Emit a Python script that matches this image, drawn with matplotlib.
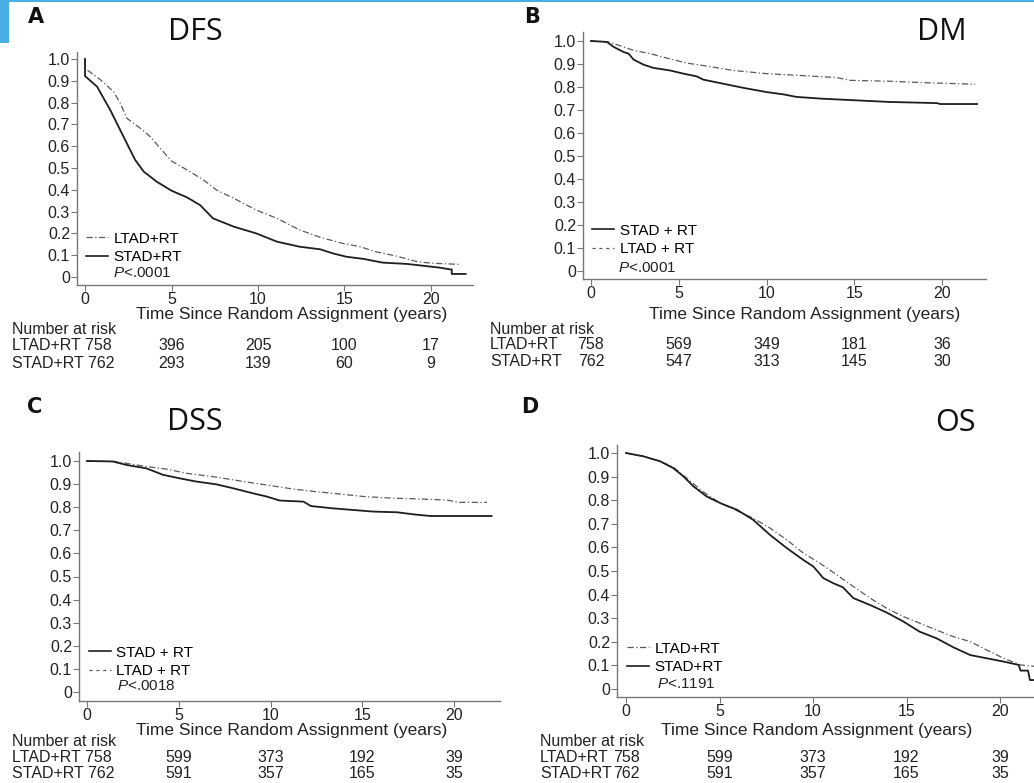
import matplotlib
matplotlib.use("Agg")
import matplotlib.pyplot as plt
from matplotlib.lines import Line2D
from matplotlib.patches import Rectangle
from matplotlib.transforms import blended_transform_factory

W, H = 1034, 783
plt.rcParams['font.family'] = ['Liberation Sans', 'DejaVu Sans']
plt.rcParams['mathtext.fontset'] = 'custom'
plt.rcParams['mathtext.it'] = 'Liberation Sans:italic'
plt.rcParams['mathtext.rm'] = 'Liberation Sans'

# ---- data ----
# panel A: disease-free survival
dfs_stad_t = [0, 0, 0.7, 1.46, 2.42, 2.9, 3.4, 4.15, 5.0, 5.9, 6.65, 7.4, 8.6, 9.9, 11.1, 12.4,
              13.6, 14.3, 15.1, 16.1, 17.2, 18.6, 19.5, 20.5, 21.1, 21.2, 21.2, 22.0]
dfs_stad_s = [1.0, 0.922, 0.873, 0.766, 0.613, 0.537, 0.483, 0.437, 0.396, 0.365, 0.33, 0.269, 0.231,
              0.2, 0.162, 0.139, 0.127, 0.109, 0.093, 0.083, 0.066, 0.06, 0.052, 0.043, 0.035, 0.035,
              0.014, 0.014]
dfs_ltad_t = [0, 0, 0.9, 1.65, 2.04, 2.42, 3.2, 3.77, 4.35, 5.0, 5.9, 6.85, 7.6, 8.6, 9.9, 11.1, 12.4,
              13.6, 14.9, 15.9, 16.8, 18.0, 19.2, 20.1, 21.65]
dfs_ltad_s = [1.0, 0.957, 0.904, 0.85, 0.797, 0.728, 0.682, 0.644, 0.59, 0.532, 0.491, 0.445, 0.399,
              0.361, 0.307, 0.269, 0.216, 0.182, 0.154, 0.139, 0.116, 0.096, 0.07, 0.063, 0.058]

# panel B: distant metastasis
dm_stad_t = [0, 0.9, 1.3, 1.86, 2.14, 2.43, 3.0, 3.56, 4.5, 5.27, 6.03, 6.4, 7.55, 8.7, 10.0, 10.96,
             11.7, 13.2, 15.1, 17.0, 19.7, 19.9, 22.0]
dm_stad_s = [1.0, 0.996, 0.974, 0.952, 0.945, 0.919, 0.897, 0.883, 0.872, 0.858, 0.846, 0.832, 0.814,
             0.796, 0.778, 0.768, 0.757, 0.749, 0.742, 0.735, 0.73, 0.726, 0.726]
dm_ltad_t = [0, 1.0, 1.48, 2.43, 3.37, 4.3, 5.46, 6.6, 8.1, 10.0, 11.7, 14.0, 14.75, 17.0, 18.9, 21.9]
dm_ltad_s = [1.0, 0.996, 0.984, 0.959, 0.945, 0.926, 0.904, 0.891, 0.872, 0.858, 0.851, 0.841, 0.829,
             0.825, 0.819, 0.812]

# panel C: disease-specific survival
dss_stad_t = [0, 1.4, 2.15, 3.24, 4.15, 5.05, 5.96, 7.05, 7.96, 9.05, 9.8, 10.5, 11.8, 12.2, 13.4,
              14.5, 15.6, 16.9, 17.8, 18.7, 22.05]
dss_stad_s = [1.0, 0.998, 0.983, 0.968, 0.94, 0.925, 0.911, 0.899, 0.882, 0.86, 0.846, 0.829, 0.824,
              0.805, 0.795, 0.788, 0.781, 0.778, 0.769, 0.762, 0.762]
dss_ltad_t = [0, 1.5, 2.15, 3.24, 4.33, 5.4, 6.9, 8.3, 9.8, 11.2, 12.5, 13.8, 15.1, 16.7, 18.0, 19.6,
              20.3, 21.8]
dss_ltad_s = [1.0, 0.998, 0.99, 0.976, 0.965, 0.947, 0.932, 0.914, 0.896, 0.879, 0.867, 0.857, 0.846,
              0.839, 0.836, 0.831, 0.821, 0.821]

# panel D: overall survival
os_stad_t = [0, 0.93, 1.82, 2.53, 3.07, 3.6, 4.31, 5.03, 5.92, 6.8, 7.7, 8.6, 9.48, 10.02, 10.55,
             11.09, 11.6, 12.16, 13.05, 13.94, 14.83, 15.7, 16.6, 17.5, 18.4, 19.3, 20.2, 21.0, 21.1,
             21.5, 21.6, 22.0]
os_stad_s = [1.0, 0.986, 0.965, 0.936, 0.901, 0.859, 0.816, 0.788, 0.76, 0.717, 0.653, 0.597, 0.547,
             0.519, 0.47, 0.448, 0.431, 0.385, 0.356, 0.324, 0.286, 0.243, 0.215, 0.177, 0.144, 0.13,
             0.116, 0.102, 0.078, 0.078, 0.038, 0.038]
os_ltad_t = [0, 0.93, 1.82, 2.53, 3.24, 4.1, 5.03, 6.8, 7.7, 8.6, 9.48, 10.37, 11.27, 12.16, 13.05,
             13.94, 14.83, 15.7, 16.6, 17.5, 18.4, 19.3, 20.2, 21.1, 22.0]
os_ltad_s = [1.0, 0.986, 0.965, 0.94, 0.894, 0.837, 0.788, 0.724, 0.682, 0.632, 0.576, 0.533, 0.484,
             0.434, 0.385, 0.342, 0.307, 0.279, 0.25, 0.222, 0.201, 0.165, 0.13, 0.102, 0.095]

risk_times = [0, 5, 10, 15, 20]
dfs_risk_ltad = [758, 396, 205, 100, 17]
dfs_risk_stad = [762, 293, 139, 60, 9]
dm_risk_ltad = [758, 569, 349, 181, 36]
dm_risk_stad = [762, 547, 313, 145, 30]
dss_risk_ltad = [758, 599, 373, 192, 39]
dss_risk_stad = [762, 591, 357, 165, 35]
os_risk_ltad = [758, 599, 373, 192, 39]
os_risk_stad = [762, 591, 357, 165, 35]

yticks = [0, 0.1, 0.2, 0.3, 0.4, 0.5, 0.6, 0.7, 0.8, 0.9, 1.0]
yticklabels = ['0', '0.1', '0.2', '0.3', '0.4', '0.5', '0.6', '0.7', '0.8', '0.9', '1.0']

SOLID = '#1e1e1e'
DASH = '#5a5a5a'
TXT = '#222222'
FS = 11.5


def fx(x):
    return x / W


def fy(y):
    return 1 - y / H


def make_axes(fig, x0_px, y0_px, ppy, ppv, left_px, right_px, top_px, bottom_px):
    # x0_px / y0_px: pixel position of (0, 0); ppy: px per year; ppv: px per unit survival
    ax = fig.add_axes([fx(left_px), fy(bottom_px), (right_px - left_px) / W, (bottom_px - top_px) / H])
    ax.set_xlim((left_px - x0_px) / ppy, (right_px - x0_px) / ppy)
    ax.set_ylim((y0_px - bottom_px) / ppv, (y0_px - top_px) / ppv)
    for s in ['top', 'right']:
        ax.spines[s].set_visible(False)
    for s in ['left', 'bottom']:
        ax.spines[s].set_color('#777777')
        ax.spines[s].set_linewidth(1.0)
    ax.set_xticks(risk_times)
    ax.set_yticks(yticks)
    ax.set_yticklabels(yticklabels)
    ax.tick_params(axis='both', direction='out', length=4, width=0.8, color='#777777',
                   labelsize=FS, pad=1, labelcolor=TXT)
    ax.patch.set_alpha(0)
    return ax


def add_risk(fig, ax, y_px, ltad, stad, label_x, inline):
    trans = blended_transform_factory(ax.transData, fig.transFigure)
    fig.text(fx(label_x), fy(y_px[0]), 'Number at risk', fontsize=FS, va='center', ha='left', color=TXT)
    for row, (name, vals) in enumerate([('LTAD+RT', ltad), ('STAD+RT', stad)]):
        yy = fy(y_px[row + 1])
        if inline:
            fig.text(fx(label_x), yy, f'{name} {vals[0]}', fontsize=FS, va='center', ha='left', color=TXT)
            rest = list(zip(risk_times[1:], vals[1:]))
        else:
            fig.text(fx(label_x), yy, name, fontsize=FS, va='center', ha='left', color=TXT)
            rest = list(zip(risk_times, vals))
        for t, v in rest:
            ax.text(t, yy, str(v), transform=trans, fontsize=FS, va='center', ha='center',
                    color=TXT, clip_on=False)


def add_legend(fig, ax, entries, x_px, y_px):
    handles = [Line2D([], [], color=c, lw=lw, dashes=d) for (_, c, lw, d) in entries]
    labels = [e[0] for e in entries]
    ax.legend(handles, labels, loc='center left', bbox_to_anchor=(fx(x_px), fy(y_px)),
              bbox_transform=fig.transFigure, frameon=False, fontsize=11, handlelength=1.45,
              handletextpad=0.35, labelspacing=0.3, borderpad=0, borderaxespad=0)


fig = plt.figure(figsize=(W / 100, H / 100), dpi=100)

# decorations at top-left
fig.add_artist(Rectangle((0, fy(43)), fx(9), 43 / H, transform=fig.transFigure,
                         color='#4aaee6', lw=0))
fig.add_artist(Rectangle((0, fy(2)), 1, 2 / H, transform=fig.transFigure, color='#4aaee6', lw=0))

DASHDOT = (5, 2, 1, 2)
DASHED = (2.5, 3)

panels = [
    dict(letter='A', lpos=(36, 17), title='DFS', tpos=(195, 32),
         geo=(85, 277, 17.3, 218, 77, 473, 52, 285),
         stad=(dfs_stad_t, dfs_stad_s), ltad=(dfs_ltad_t, dfs_ltad_s),
         legend=[('LTAD+RT', DASH, 0.9, DASHDOT), ('STAD+RT', SOLID, 1.2, (None, None))],
         leg_xy=(86, 248), ppos=(113, 273), p='.0001',
         risk_y=(330, 346, 363), risk=(dfs_risk_ltad, dfs_risk_stad), risk_x=12, inline=True,
         xlab=(292, 314)),
    dict(letter='B', lpos=(532, 17), title='DM', tpos=(942, 32),
         geo=(591, 271, 17.55, 230, 583, 986, 32, 279),
         stad=(dm_stad_t, dm_stad_s), ltad=(dm_ltad_t, dm_ltad_s),
         legend=[('STAD + RT', SOLID, 1.2, (None, None)), ('LTAD + RT', DASH, 0.9, DASHED)],
         leg_xy=(592, 240), ppos=(618, 268), p='.0001',
         risk_y=(330, 345, 362), risk=(dm_risk_ltad, dm_risk_stad), risk_x=490, inline=False,
         xlab=(805, 314)),
    dict(letter='C', lpos=(35, 407), title='DSS', tpos=(195, 422),
         geo=(87, 692, 18.35, 231, 79, 500, 452, 701),
         stad=(dss_stad_t, dss_stad_s), ltad=(dss_ltad_t, dss_ltad_s),
         legend=[('STAD + RT', SOLID, 1.2, (None, None)), ('LTAD + RT', DASH, 0.9, DASHED)],
         leg_xy=(89, 662), ppos=(117, 686), p='.0018',
         risk_y=(742, 758, 773), risk=(dss_risk_ltad, dss_risk_stad), risk_x=12, inline=True,
         xlab=(292, 730)),
    dict(letter='D', lpos=(530, 407), title='OS', tpos=(955, 423),
         geo=(626, 689, 18.7, 236, 617, 1047, 445, 697),
         stad=(os_stad_t, os_stad_s), ltad=(os_ltad_t, os_ltad_s),
         legend=[('LTAD+RT', DASH, 0.9, DASHDOT), ('STAD+RT', SOLID, 1.2, (None, None))],
         leg_xy=(627, 658), ppos=(657, 684), p='.1191',
         risk_y=(742, 758, 773), risk=(os_risk_ltad, os_risk_stad), risk_x=540, inline=False,
         xlab=(817, 730)),
]

for p in panels:
    ax = make_axes(fig, *p['geo'])
    ax.plot(p['ltad'][0], p['ltad'][1], color=DASH, lw=0.9, dashes=DASHDOT)
    ax.plot(p['stad'][0], p['stad'][1], color=SOLID, lw=1.3)
    add_legend(fig, ax, p['legend'], *p['leg_xy'])
    fig.text(fx(p['ppos'][0]), fy(p['ppos'][1]), r'$P$<' + p['p'], fontsize=11, va='center',
             ha='left', color=TXT)
    fig.text(fx(p['lpos'][0]), fy(p['lpos'][1]), p['letter'], fontsize=15, fontweight='bold',
             family=['DejaVu Sans'], va='center', ha='center', color='#111111')
    fig.text(fx(p['tpos'][0]), fy(p['tpos'][1]), p['title'], fontsize=22, family=['Open Sans'],
             va='center', ha='center', color='#111111')
    fig.text(fx(p['xlab'][0]), fy(p['xlab'][1]), 'Time Since Random Assignment (years)',
             fontsize=12.5, va='center', ha='center', color=TXT)
    add_risk(fig, ax, p['risk_y'], p['risk'][0], p['risk'][1], p['risk_x'], p['inline'])

fig.savefig('out.png', dpi=100)
